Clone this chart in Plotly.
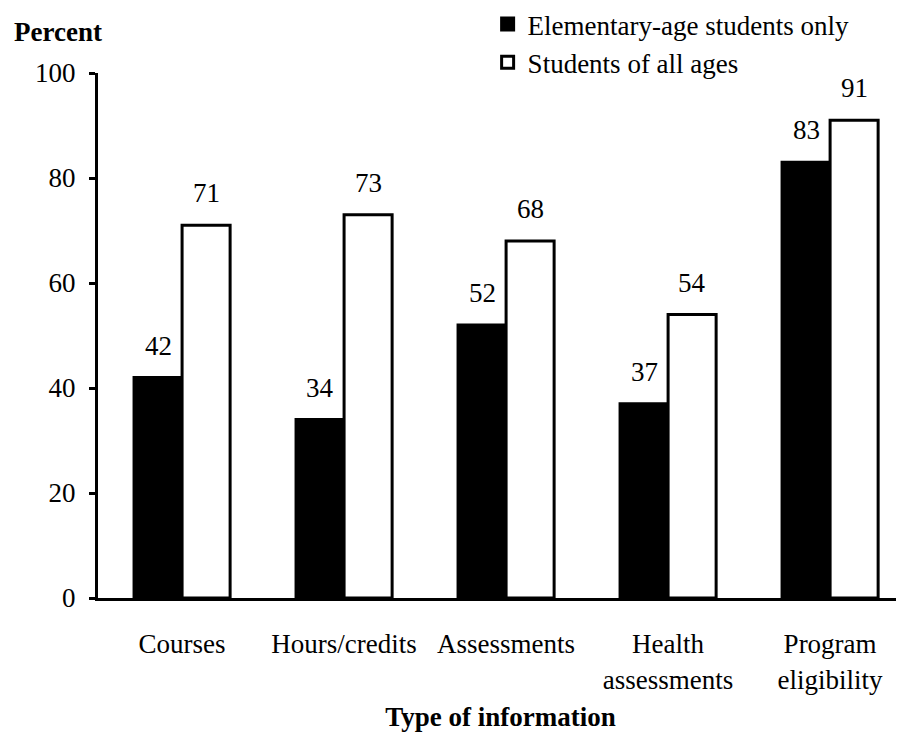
import plotly.graph_objects as go

categories = ["Courses", "Hours/credits", "Assessments", "Health<br>assessments", "Program<br>eligibility"]
elementary = [42, 34, 52, 37, 83]
all_ages = [71, 73, 68, 54, 91]
series_names = ["Elementary-age students only", "Students of all ages"]
y_ticks = [0, 20, 40, 60, 80, 100]

FONT = "Liberation Serif"
FS = 27
BARGAP = 0.407
bar_w = (1 - BARGAP) / 2

fig = go.Figure()
fig.add_trace(go.Bar(
    x=categories, y=elementary, name=series_names[0],
    marker=dict(color="black", line=dict(color="black", width=3)),
    legendgroup="a",
))
fig.add_trace(go.Bar(
    x=categories, y=all_ages, name=series_names[1],
    marker=dict(color="white", line=dict(color="black", width=3)),
    legendgroup="b",
))

annotations = []
for i, (a, b) in enumerate(zip(elementary, all_ages)):
    for val, off in ((a, -bar_w / 2), (b, bar_w / 2)):
        annotations.append(dict(
            x=i + off, y=val, xref="x", yref="y", text=str(val),
            showarrow=False, yanchor="bottom", yshift=15,
            font=dict(family=FONT, size=FS, color="black"),
        ))

annotations.append(dict(
    x=-0.107, y=1.078, xref="paper", yref="paper", text="<b>Percent</b>",
    showarrow=False, xanchor="left", yanchor="middle",
    font=dict(family=FONT, size=FS, color="black"),
))

fig.update_layout(
    width=896, height=730,
    margin=dict(l=90, r=1, t=65, b=140, autoexpand=False),
    paper_bgcolor="white", plot_bgcolor="white",
    barmode="group", bargap=BARGAP, bargroupgap=0,
    font=dict(family=FONT, size=FS, color="black"),
    showlegend=True,
    legend=dict(
        x=0.484, y=1.139, xanchor="left", yanchor="top",
        traceorder="grouped", tracegroupgap=0,
        font=dict(family=FONT, size=FS, color="black"),
        bgcolor="rgba(0,0,0,0)",
    ),
    annotations=annotations,
    xaxis=dict(
        range=[-0.519, 4.45],
        showline=True, linecolor="black", linewidth=3,
        ticks="", showgrid=False, zeroline=False,
        ticklabelstandoff=20,
        tickfont=dict(family=FONT, size=FS, color="black"),
        title=dict(text="<b>Type of information</b>", standoff=14,
                   font=dict(family=FONT, size=FS, color="black")),
    ),
    yaxis=dict(
        range=[0, 100], tickvals=y_ticks,
        showline=True, linecolor="black", linewidth=3,
        ticks="outside", ticklen=6, tickwidth=3, tickcolor="black",
        showgrid=False, zeroline=False,
        ticklabelstandoff=8,
        tickfont=dict(family=FONT, size=FS, color="black"),
    ),
)

fig.write_html("out.html")
